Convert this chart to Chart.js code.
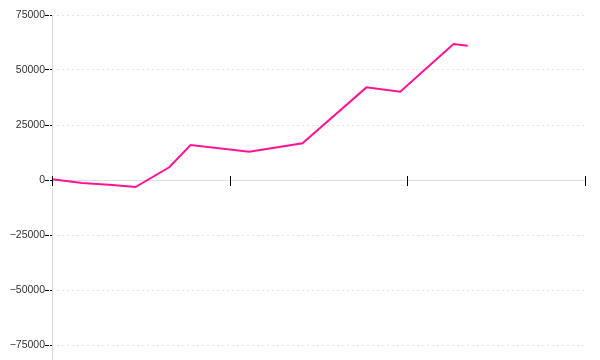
<!DOCTYPE html>
<html>
<head>
<meta charset="utf-8">
<script src="https://cdn.jsdelivr.net/npm/chart.js@4/dist/chart.umd.min.js"></script>
<style>
  html, body { margin: 0; padding: 0; background: #fff; }
  #wrap { width: 600px; height: 360px; }
</style>
</head>
<body>
<div id="wrap"><canvas id="c" width="600" height="360"></canvas></div>
<script>
// Data
const xValues = [0, 0.17, 0.34, 0.47, 0.66, 0.78, 1.11, 1.41, 1.77, 1.96, 2.26, 2.34];
const yValues = [300, -1400, -2300, -3200, 5800, 15900, 12900, 16700, 42100, 40100, 61800, 61000];
const yTickValues = [-75000, -50000, -25000, 0, 25000, 50000, 75000];
const yTickLabels = ['\u221275000', '\u221250000', '\u221225000', '0', '25000', '50000', '75000'];
const xTickValues = [0, 1, 2, 3];

const points = xValues.map((x, i) => ({ x: x, y: yValues[i] }));

const crossTicks = {
  id: 'crossTicks',
  beforeDatasetsDraw(chart) {
    const ctx = chart.ctx;
    const xs = chart.scales.x, ys = chart.scales.y;
    const y0 = Math.round(ys.getPixelForValue(0)) + 0.5;
    const ax = Math.round(xs.left) + 0.5;
    ctx.save();
    ctx.setLineDash([]);
    ctx.strokeStyle = '#dcdcdc';
    ctx.lineWidth = 1;
    // y axis line, full height below top
    ctx.beginPath();
    ctx.moveTo(ax, chart.chartArea.top);
    ctx.lineTo(ax, chart.height);
    ctx.stroke();
    // x axis line at zero
    ctx.beginPath();
    ctx.moveTo(xs.left, y0);
    ctx.lineTo(xs.right, y0);
    ctx.stroke();
    ctx.restore();
  },
  afterDraw(chart) {
    const ctx = chart.ctx;
    const xs = chart.scales.x, ys = chart.scales.y;
    const y0 = ys.getPixelForValue(0);
    ctx.save();
    ctx.setLineDash([]);
    ctx.strokeStyle = '#000';
    ctx.lineWidth = 1;
    xTickValues.forEach(v => {
      const px = Math.round(xs.getPixelForValue(v)) + 0.5;
      ctx.beginPath();
      ctx.moveTo(px, y0 - 4);
      ctx.lineTo(px, y0 + 6);
      ctx.stroke();
    });
    ctx.restore();
  }
};

new Chart(document.getElementById('c'), {
  type: 'line',
  data: {
    datasets: [{
      data: points,
      borderColor: '#ff1493',
      borderWidth: 2,
      pointRadius: 0,
      tension: 0,
      fill: false
    }]
  },
  options: {
    responsive: false,
    animation: false,
    devicePixelRatio: 1,
    layout: { padding: { left: 0, right: 15, top: 15, bottom: 15 } },
    plugins: { legend: { display: false }, tooltip: { enabled: false } },
    scales: {
      x: {
        type: 'linear',
        min: 0,
        max: 3,
        position: { y: 0 },
        grid: { display: false, drawTicks: false },
        border: { display: false },
        ticks: { display: false, stepSize: 1 }
      },
      y: {
        type: 'linear',
        min: -75000,
        max: 75000,
        afterFit(scale) { scale.width = 52; },
        afterBuildTicks(scale) { scale.ticks = yTickValues.map(v => ({ value: v })); },
        grid: {
          color: (ctx) => (ctx.tick && ctx.tick.value === 0) ? 'rgba(0,0,0,0)' : '#e4e4e4',
          tickColor: '#000',
          tickLength: 7,
          tickBorderDash: [4, 1]
        },
        border: { display: false, dash: [2, 3] },
        ticks: {
          padding: 0,
          color: '#333',
          font: { family: 'Liberation Sans', size: 10.5 },
          callback(v) {
            const i = yTickValues.indexOf(v);
            return i >= 0 ? yTickLabels[i] : '';
          }
        }
      }
    }
  },
  plugins: [crossTicks]
});
</script>
</body>
</html>
